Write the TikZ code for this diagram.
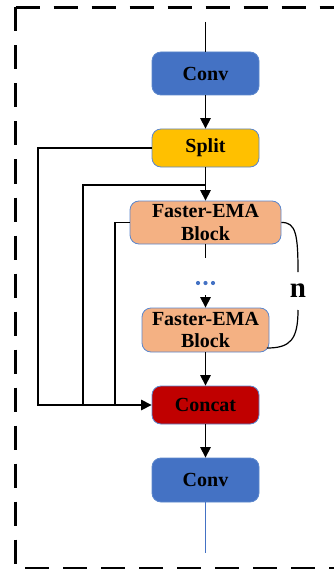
\documentclass[tikz,border=0pt]{standalone}
\usepackage{fontspec}
\setmainfont{Liberation Serif}
\usetikzlibrary{arrows.meta}
\definecolor{convblue}{HTML}{4472C4}
\definecolor{splityel}{HTML}{FFC000}
\definecolor{emaor}{HTML}{F4B183}
\definecolor{catred}{HTML}{C00000}
\definecolor{edgeblue}{HTML}{5B86CC}
\tikzset{
  box/.style={draw=edgeblue, line width=0.8pt, rounded corners=9pt, align=center,
    font=\fontsize{20}{22.5}\selectfont\bfseries, inner sep=0pt, text=black},
  wire/.style={line width=1.2pt, black},
  arr/.style={wire, -{Triangle[length=10.5pt,width=10.5pt]}},
}
\begin{document}
\begin{tikzpicture}[x=1pt,y=-1pt]
\useasboundingbox (0,0) rectangle (334,572);
\draw[line width=2.6pt, dash pattern=on 24pt off 14pt] (15.5,7.5) -- (15.5,568) -- (360,568);
\draw[line width=2.6pt, dash pattern=on 24pt off 14pt] (15.5,7.5) -- (360,7.5);

\node[box, fill=convblue, minimum width=107pt, minimum height=43pt] (conv1) at (205.5,73.5) {Conv};
\node[box, fill=splityel, minimum width=107pt, minimum height=38pt] (split) at (205.5,148) {Split};
\node[box, fill=emaor, minimum width=151pt, minimum height=43pt] (fe1) at (205.5,222.5) {Faster-EMA\\Block};
\node[box, fill=emaor, minimum width=127pt, minimum height=44pt] (fe2) at (205.5,330) {Faster-EMA\\Block};
\node[box, fill=catred, minimum width=107pt, minimum height=38pt] (concat) at (205.5,405) {Concat};
\node[box, fill=convblue, minimum width=107pt, minimum height=44pt] (conv2) at (205.5,480) {Conv};

\coordinate (top) at (205.5,22);
\coordinate (xa) at (38,0);
\coordinate (jb) at (83,185);
\coordinate (xc) at (115,0);
\coordinate (d1) at (205.5,258);
\coordinate (d2) at (205.5,295);
\coordinate (bot) at (205.5,553);
\coordinate (n1) at (298,272);
\coordinate (n2) at (298,310);
\coordinate (fe2end) at (267,348);

\draw[wire] (top) -- (conv1.north);
\draw[arr] (conv1.south) -- (split.north);
\draw[arr] (split.south) -- (fe1.north);
\draw[arr] (split.west) -- (split.west -| xa) |- (concat.west);
\draw[wire] (split.south |- jb) -- (jb) |- (xc |- concat.west);
\draw[wire] (fe1.west) -- (fe1.west -| xc) -- (xc |- concat.west);
\draw[wire] (fe1.south) -- (d1);
\node[text=convblue, inner sep=0pt] (dots) at (205.5,283) {%
  \tikz[x=1pt,y=1pt]{\fill (-7.5,0) circle (2.1pt); \fill (0,0) circle (2.1pt); \fill (7.5,0) circle (2.1pt);}};
\draw[arr] (d2) -- (fe2.north);
\draw[arr] (fe2.south) -- (concat.north);
\draw[arr] (concat.south) -- (conv2.north);
\draw[line width=1.1pt, convblue] (conv2.south) -- (bot);

\draw[wire] (fe1.east) .. controls (296,222) and (298,235) .. (n1);
\node[font=\fontsize{29}{29}\selectfont\bfseries, inner sep=0pt] (nlab) at (298,291) {n};
\draw[wire] (n2) .. controls (298,340) and (290,348) .. (fe2end);
\end{tikzpicture}
\end{document}
